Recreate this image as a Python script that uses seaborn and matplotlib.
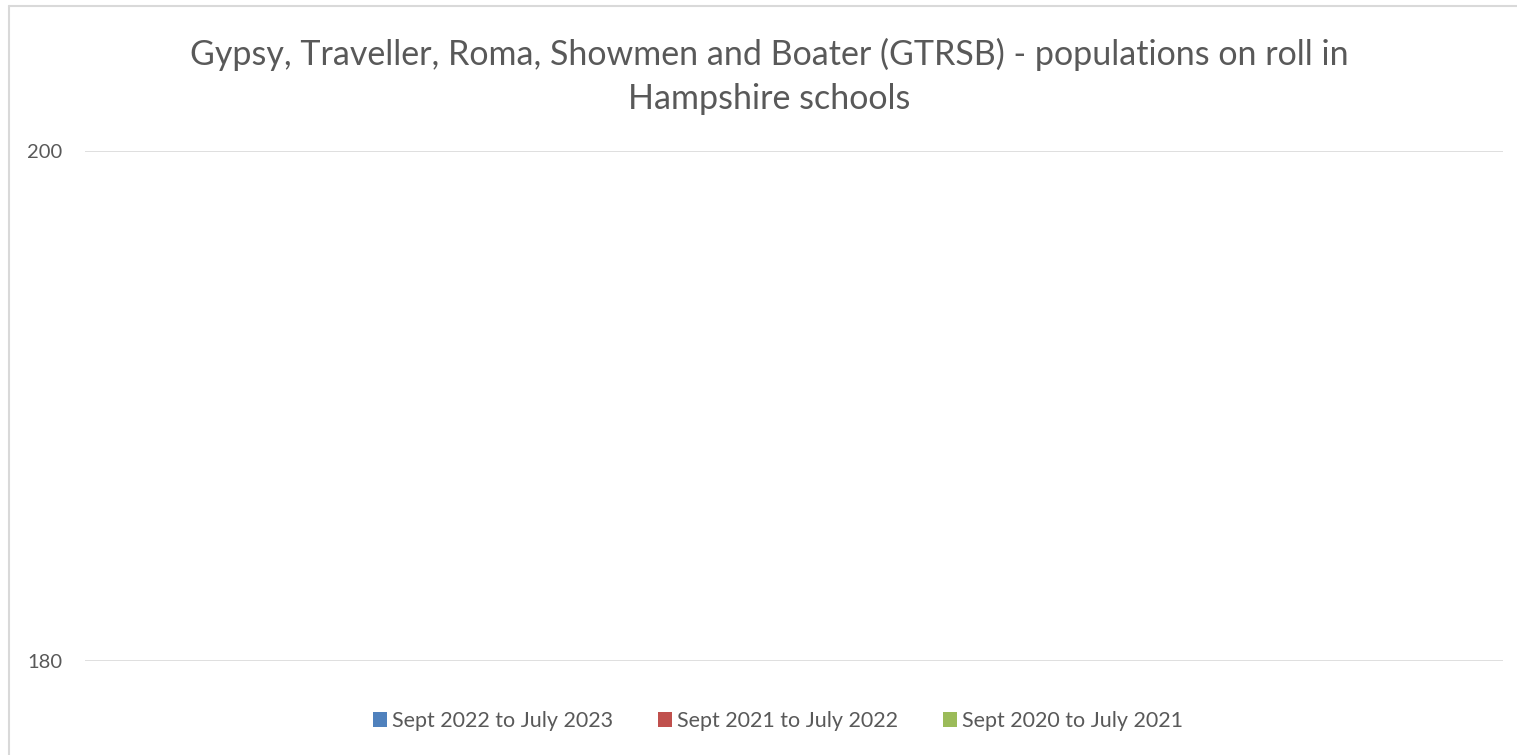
import pandas as pd
import numpy as np
import seaborn as sns
import matplotlib.pyplot as plt
from matplotlib.lines import Line2D
from matplotlib.patches import Patch

# Data - the chart shows no visible bars inside the 180-200 window
categories = [""]
series = ["Sept 2022 to July 2023", "Sept 2021 to July 2022", "Sept 2020 to July 2021"]
values_2223 = [0]
values_2122 = [0]
values_2021 = [0]
colors = ["#4F81BD", "#C0504D", "#9BBB59"]

df = pd.DataFrame({
    "category": categories * 3,
    "series": np.repeat(series, len(categories)),
    "value": values_2223 + values_2122 + values_2021,
})

sns.set_theme(style="white")
plt.rcParams['font.family'] = ['Lato', 'DejaVu Sans']
text_col = "#595959"

fig = plt.figure(figsize=(15.17, 7.55), dpi=100)
ax = fig.add_axes([0.056, 0.1245, 0.935, 0.6755])

sns.barplot(data=df, x="category", y="value", hue="series",
            palette=colors, ax=ax, legend=False)

ax.set_ylim(180, 200)
ax.set_yticks([180, 200])
ax.yaxis.grid(True, color="#D9D9D9", linewidth=1.2)
ax.set_axisbelow(True)
for s in ax.spines.values():
    s.set_visible(False)
ax.tick_params(axis="y", length=0, pad=16.5, labelsize=14.5, labelcolor=text_col)
ax.set_xticks([])
ax.set_xlabel("")
ax.set_ylabel("")

fig.text(0.507, 0.899,
         "Gypsy, Traveller, Roma, Showmen and Boater (GTRSB) - populations on roll in\nHampshire schools",
         ha="center", va="center", fontsize=24.5, color=text_col, linespacing=1.45)

handles = [Patch(facecolor=c, edgecolor="none", label=s) for s, c in zip(series, colors)]
fig.legend(handles=handles, loc="center", bbox_to_anchor=(0.513, 0.045), ncol=3,
           frameon=False, fontsize=15.5, handlelength=0.65, handleheight=0.65,
           handletextpad=0.23, columnspacing=2.1, labelcolor=text_col)

# chart area border (only left and top edges are visible in the reference)
fig.add_artist(Line2D([0.0059, 0.0059], [0.0, 0.992], transform=fig.transFigure,
                      color="#D9D9D9", linewidth=1.5))
fig.add_artist(Line2D([0.0059, 1.0], [0.992, 0.992], transform=fig.transFigure,
                      color="#D9D9D9", linewidth=1.5))

fig.savefig("out.png", dpi=100)
